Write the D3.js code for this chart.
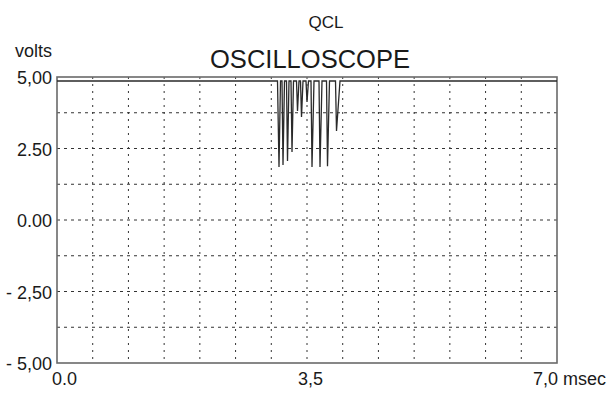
<!DOCTYPE html>
<html lang="en">
<head>
    <meta charset="UTF-8">
    <title>QCL Oscilloscope</title>
    <script src="https://d3js.org/d3.v7.min.js"></script>
    <style>
        body { margin: 0; background: #fff; }
        svg { display: block; }
        text { font-family: "Liberation Sans", Arial, sans-serif; fill: #1a1a1a; }
        .grid { stroke: #333; stroke-width: 1; fill: none; }
        .frame { fill: none; stroke: #6a6a6a; stroke-width: 1.6; }
        .signal { fill: none; stroke: #2a2a2a; stroke-width: 1.3; }
    </style>
</head>
<body>
    <svg width="615" height="395"></svg>

    <script>
        // data
        const timeMs = [0, 3.087, 3.108, 3.129, 3.150, 3.164, 3.185, 3.213, 3.227, 3.248,
            3.276, 3.290, 3.311, 3.353, 3.367, 3.388, 3.409, 3.423, 3.444, 3.486, 3.500, 3.521,
            3.556, 3.570, 3.598, 3.668, 3.682, 3.710, 3.773, 3.787, 3.815, 3.899, 3.913, 3.962, 7.0];
        const volts = [4.86, 4.86, 1.85, 4.86, 4.86, 1.92, 4.86, 4.86, 2.06, 4.86,
            4.86, 2.38, 4.86, 4.86, 3.81, 4.86, 4.86, 3.60, 4.86, 4.86, 4.13, 4.86,
            4.86, 1.85, 4.86, 4.86, 1.85, 4.86, 4.86, 1.88, 4.86, 4.86, 3.11, 4.86, 4.86];

        const yTicks = [5, 2.5, 0, -2.5, -5];
        const yTickLabels = ["5,00", "2.50", "0.00", "- 2,50", "- 5,00"];
        const xTicks = [0, 3.5, 7];
        const xTickLabels = ["0.0", "3,5", "7,0 msec"];

        const svg = d3.select("svg");

        const x = d3.scaleLinear().domain([0, 7]).range([57, 557]);
        const y = d3.scaleLinear().domain([-5, 5]).range([363, 77]);

        // titles
        svg.append("text").attr("x", 326).attr("y", 28)
            .attr("text-anchor", "middle").style("font-size", "17px").text("QCL");
        svg.append("text").attr("x", 310).attr("y", 68)
            .attr("text-anchor", "middle").style("font-size", "26px")
            .attr("textLength", 200).attr("lengthAdjust", "spacingAndGlyphs")
            .text("OSCILLOSCOPE");
        svg.append("text").attr("x", 15).attr("y", 57)
            .style("font-size", "18px").text("volts");

        // grid (dashed horizontals, dotted verticals)
        const hLines = d3.range(-5, 5.01, 1.25).filter(v => v > -5 && v < 5);
        svg.append("g").selectAll("line").data(hLines).enter().append("line")
            .attr("class", "grid")
            .attr("x1", x(0)).attr("x2", x(7))
            .attr("y1", d => y(d)).attr("y2", d => y(d))
            .attr("stroke-dasharray", "3,4");

        const vLines = d3.range(0.5, 7, 0.5);
        svg.append("g").selectAll("line").data(vLines).enter().append("line")
            .attr("class", "grid")
            .attr("x1", d => x(d)).attr("x2", d => x(d))
            .attr("y1", y(5)).attr("y2", y(-5))
            .attr("stroke-width", 0.9)
            .attr("stroke-dasharray", "2,5");

        // frame
        svg.append("rect").attr("class", "frame")
            .attr("x", x(0)).attr("y", y(5))
            .attr("width", x(7) - x(0)).attr("height", y(-5) - y(5));

        // signal trace
        const pts = timeMs.map((t, i) => [t, volts[i]]);
        const line = d3.line().x(d => x(d[0])).y(d => y(d[1]));
        svg.append("path").datum(pts).attr("class", "signal").attr("d", line);

        // y labels
        svg.append("g").selectAll("text").data(yTicks).enter().append("text")
            .attr("x", 52)
            .attr("y", d => y(d) + 7)
            .attr("text-anchor", "end")
            .style("font-size", "18px")
            .text((d, i) => yTickLabels[i]);

        // x labels
        svg.append("g").selectAll("text").data(xTicks).enter().append("text")
            .attr("x", (d, i) => i === 0 ? x(d) - 5 : i === 1 ? x(d) - 9 : x(d) - 24)
            .attr("y", 385)
            .style("font-size", "18px")
            .text((d, i) => xTickLabels[i]);
    </script>
</body>
</html>
